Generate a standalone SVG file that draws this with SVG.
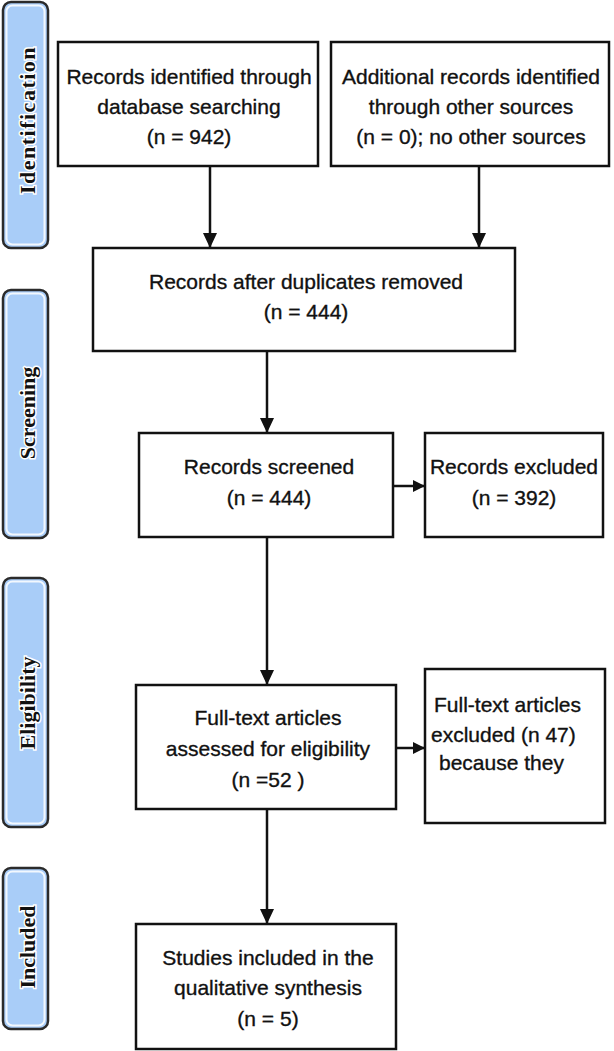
<svg xmlns="http://www.w3.org/2000/svg" width="614" height="1051" viewBox="0 0 614 1051">
<style>
.bg{fill:#ffffff}
.box{fill:#ffffff;stroke:#111111;stroke-width:2.5}
.phase{fill:#a9cdf8;stroke:#2b2b2b;stroke-width:2.5}
.phase-in{fill:none;stroke:#ffffff;stroke-width:2;opacity:0.85}
.t{font-family:"Liberation Sans",Arial,sans-serif;font-size:21px;fill:#111111;stroke:#111111;stroke-width:0.35;text-anchor:middle}
.ts{font-family:"Liberation Sans",Arial,sans-serif;font-size:21px;fill:#111111;stroke:#111111;stroke-width:0.35;text-anchor:start}
.pl{font-family:"Liberation Serif","Times New Roman",serif;font-weight:bold;font-size:22px;fill:#111111;text-anchor:middle;stroke:#ffffff;stroke-width:3;paint-order:stroke}
.c{fill:none;stroke:#111111;stroke-width:2.5}
</style>
<defs>
<marker id="ah" markerUnits="userSpaceOnUse" markerWidth="16" markerHeight="16" viewBox="0 0 16 16" refX="15" refY="8" orient="auto">
<path d="M0,1 L15,8 L0,15 Z" fill="#111111"/>
</marker>
<marker id="ahs" markerUnits="userSpaceOnUse" markerWidth="13" markerHeight="13" viewBox="0 0 13 13" refX="12" refY="6.5" orient="auto">
<path d="M0,0.5 L12,6.5 L0,12.5 Z" fill="#111111"/>
</marker>
</defs>
<rect class="bg" x="0" y="0" width="614" height="1051"/>

<g id="phase-identification">
<rect class="phase" x="3" y="2" width="45" height="246" rx="8"/>
<rect class="phase-in" x="6.5" y="5.5" width="38" height="239" rx="6"/>
<text class="pl" transform="translate(35,120) rotate(-90)" letter-spacing="1.5">Identification</text>
</g>
<g id="phase-screening">
<rect class="phase" x="3" y="290" width="45" height="248" rx="8"/>
<rect class="phase-in" x="6.5" y="293.5" width="38" height="241" rx="6"/>
<text class="pl" transform="translate(35,413) rotate(-90)">Screening</text>
</g>
<g id="phase-eligibility">
<rect class="phase" x="3" y="578" width="45" height="249" rx="8"/>
<rect class="phase-in" x="6.5" y="581.5" width="38" height="242" rx="6"/>
<text class="pl" transform="translate(35,703) rotate(-90)">Eligibility</text>
</g>
<g id="phase-included">
<rect class="phase" x="3" y="868" width="45" height="161" rx="8"/>
<rect class="phase-in" x="6.5" y="871.5" width="38" height="154" rx="6"/>
<text class="pl" transform="translate(35,947) rotate(-90)">Included</text>
</g>

<g id="connectors">
<line class="c" x1="210" y1="166" x2="210" y2="248" marker-end="url(#ah)"/>
<line class="c" x1="479" y1="166" x2="479" y2="248" marker-end="url(#ah)"/>
<line class="c" x1="267" y1="351" x2="267" y2="433" marker-end="url(#ah)"/>
<line class="c" x1="393" y1="486" x2="425" y2="486" marker-end="url(#ahs)"/>
<line class="c" x1="267" y1="537" x2="267" y2="685" marker-end="url(#ah)"/>
<line class="c" x1="396" y1="748" x2="425" y2="748" marker-end="url(#ahs)"/>
<line class="c" x1="267" y1="809" x2="267" y2="924" marker-end="url(#ah)"/>
</g>

<g id="node-database">
<rect class="box" x="58" y="42" width="260" height="124"/>
<text class="t" x="189" y="84">Records identified through</text>
<text class="t" x="189" y="114">database searching</text>
<text class="t" x="189" y="144">(n = 942)</text>
</g>
<g id="node-other">
<rect class="box" x="331" y="42" width="278" height="124"/>
<text class="t" x="471" y="84">Additional records identified</text>
<text class="t" x="471" y="114">through other sources</text>
<text class="t" x="471" y="144">(n = 0); no other sources</text>
</g>
<g id="node-duplicates">
<rect class="box" x="93" y="248" width="422" height="103"/>
<text class="t" x="306" y="289">Records after duplicates removed</text>
<text class="t" x="306" y="319">(n = 444)</text>
</g>
<g id="node-screened">
<rect class="box" x="139" y="433" width="254" height="104"/>
<text class="t" x="269" y="474">Records screened</text>
<text class="t" x="269" y="505">(n = 444)</text>
</g>
<g id="node-excluded">
<rect class="box" x="425" y="433" width="178" height="104"/>
<text class="t" x="514" y="474">Records excluded</text>
<text class="t" x="514" y="505">(n = 392)</text>
</g>
<g id="node-fulltext">
<rect class="box" x="136" y="685" width="260" height="124"/>
<text class="t" x="268" y="725">Full-text articles</text>
<text class="t" x="268" y="756">assessed for eligibility</text>
<text class="t" x="268" y="787">(n =52 )</text>
</g>
<g id="node-fulltext-excluded">
<rect class="box" x="425" y="669" width="180" height="154"/>
<text class="ts" x="434" y="712">Full-text articles</text>
<text class="ts" x="431" y="742">excluded (n 47)</text>
<text class="ts" x="439" y="770">because they</text>
</g>
<g id="node-included">
<rect class="box" x="136" y="924" width="260" height="125"/>
<text class="t" x="268" y="965">Studies included in the</text>
<text class="t" x="268" y="995">qualitative synthesis</text>
<text class="t" x="268" y="1026">(n = 5)</text>
</g>
</svg>
